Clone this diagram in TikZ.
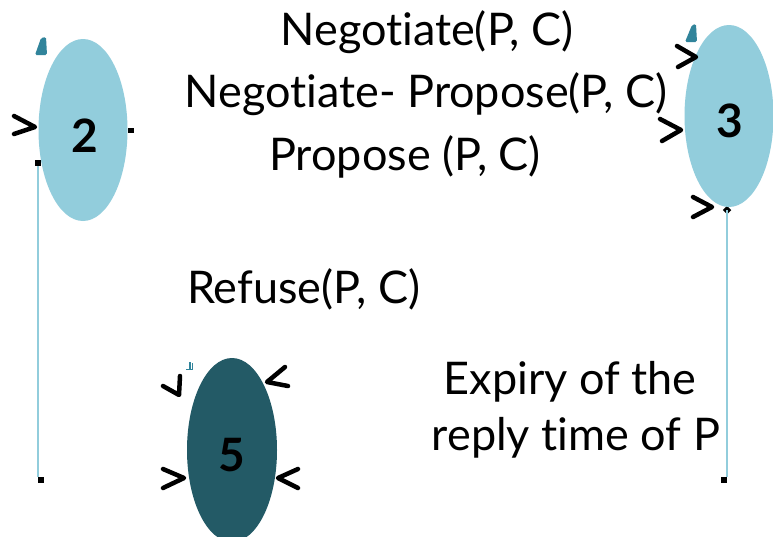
\documentclass[tikz,border=0pt]{standalone}
\usepackage{fontspec}
\setmainfont{Lato}[Ligatures={NoCommon,NoRequired,NoContextual}]
\usetikzlibrary{shapes.geometric}
\definecolor{lightst}{HTML}{92CDDC}
\definecolor{darkst}{HTML}{235A66}
\definecolor{marker}{HTML}{31849B}
\begin{document}
\begin{tikzpicture}[x=1pt,y=-1pt,
  state/.style={ellipse, minimum width=89pt, minimum height=182pt, inner sep=0pt},
  num/.style={inner sep=0pt, font=\fontsize{46}{46}\selectfont\bfseries},
  lbl/.style={inner sep=0pt, anchor=base, font=\fontsize{45}{48}\selectfont},
  chev/.style={line width=4.5pt, line cap=round, line join=round},
  dotn/.style={fill=black, inner sep=0pt, minimum width=6pt, minimum height=6pt},
  lifeline/.style={draw=lightst, line width=1.2pt},
  tag/.style={fill=marker, rounded corners=1.5pt}
]
\clip (0,0) rectangle (773,536);
\fill[white] (0,0) rectangle (773,536);

% lifelines
\node[dotn] (t2) at (38,163) {};
\node[dotn] (b2) at (41,480) {};
\node[dotn, rotate=45] (t3) at (727,210) {};
\node[dotn] (b3) at (724,480) {};
\draw[lifeline] (t2.south) -- (t2.south |- b2.north);
\draw[lifeline] (t3.center) -- (t3.center |- b3.north);

% states
\node[state, fill=lightst] (s2) at (83,130) {};
\node[num] (l2) at (85,136) {2};
\node[state, fill=lightst] (s3) at (729,116) {};
\node[num] (l3) at (730,121) {3};
\node[state, fill=darkst, minimum height=184pt, minimum width=90pt] (s5) at (232,450) {};
\node[num] (l5) at (232,455) {5};

% small marks
\node[dotn, minimum width=6pt, minimum height=5pt] (d2) at (131,130) {};
\fill[tag] (35,55) -- (41,38) -- (46,37) -- (47,55) -- cycle;
\fill[tag] (685,42) -- (692,25) -- (696,24) -- (697,42) -- cycle;
\fill[marker] (189,362) rectangle (190.5,369);
\fill[marker] (191.5,363) rectangle (193,369);
\fill[marker] (186,368.5) rectangle (193,370);

% chevrons
\draw[chev] (14,116) -- (35,127) -- (14,134);
\draw[chev] (677,46) -- (696,57) -- (678,67);
\draw[chev] (660,119) -- (681,130) -- (662,141);
\draw[chev] (693,197) -- (712,207) -- (693,217);
\draw[chev] (163,386) -- (179,395) -- (180,376);
\draw[chev] (285,367) -- (267,382) -- (288,386);
\draw[chev] (163,469) -- (184,478) -- (163,488);
\draw[chev] (298,469) -- (278,478) -- (298,488);

% texts
\node[lbl] (n1) at (427,45) {Negotiate(P, C)};
\node[lbl] (n2) at (426,107) {Negotiate- Propose(P, C)};
\node[lbl] (n3) at (405,170) {Propose (P, C)};
\node[lbl, anchor=base west] (n4) at (187,303) {Refuse(P, C)};
\node[lbl] (n5) at (570,394) {Expiry of the};
\node[lbl] (n6) at (576,450) {reply time of P};
\end{tikzpicture}
\end{document}
